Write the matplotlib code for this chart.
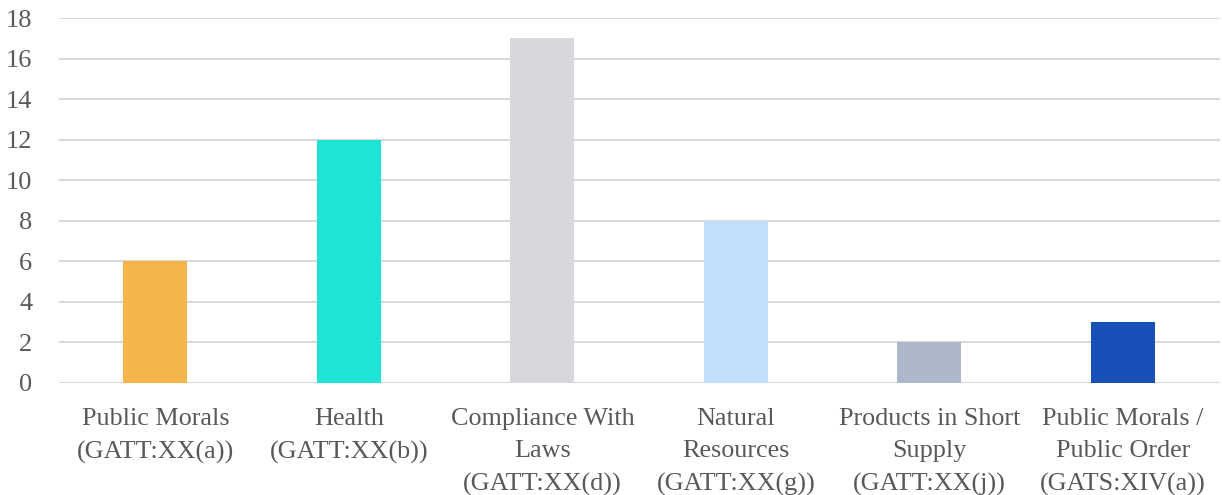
import matplotlib
matplotlib.use("Agg")
import matplotlib.pyplot as plt

categories = ["Public Morals\n(GATT:XX(a))", "Health\n(GATT:XX(b))", "Compliance With\nLaws\n(GATT:XX(d))",
              "Natural\nResources\n(GATT:XX(g))", "Products in Short\nSupply\n(GATT:XX(j))",
              "Public Morals /\nPublic Order\n(GATS:XIV(a))"]
values = [6, 12, 17, 8, 2, 3]
colors = ["#F5B54A", "#1FE3D4", "#D6D8DE", "#C2DFFC", "#ACB7C9", "#1850B8"]
yticks = [0, 2, 4, 6, 8, 10, 12, 14, 16, 18]

plt.rcParams['font.family'] = ['Liberation Serif', 'DejaVu Serif']
fig = plt.figure(figsize=(12.22, 4.95), dpi=100)
ax = fig.add_axes([0.048, 0.2263, 0.95, 0.7373])
x = range(len(values))
ax.bar(x, values, width=0.33, color=colors, zorder=3)
ax.set_xlim(-0.5, len(values) - 0.5)
ax.set_ylim(0, 18)
ax.set_yticks(yticks)
ax.set_xticks(list(x))
ax.set_xticklabels(categories, fontsize=18.8, color="#595959", linespacing=1.6, va="top")
ax.tick_params(axis="y", labelsize=19, labelcolor="#595959", length=0, pad=19)
ax.tick_params(axis="x", length=0, pad=18)
ax.grid(axis="y", color="#D9D9D9", linewidth=1.5, zorder=0)
for s in ax.spines.values():
    s.set_visible(False)
fig.savefig("out.png", dpi=100)
